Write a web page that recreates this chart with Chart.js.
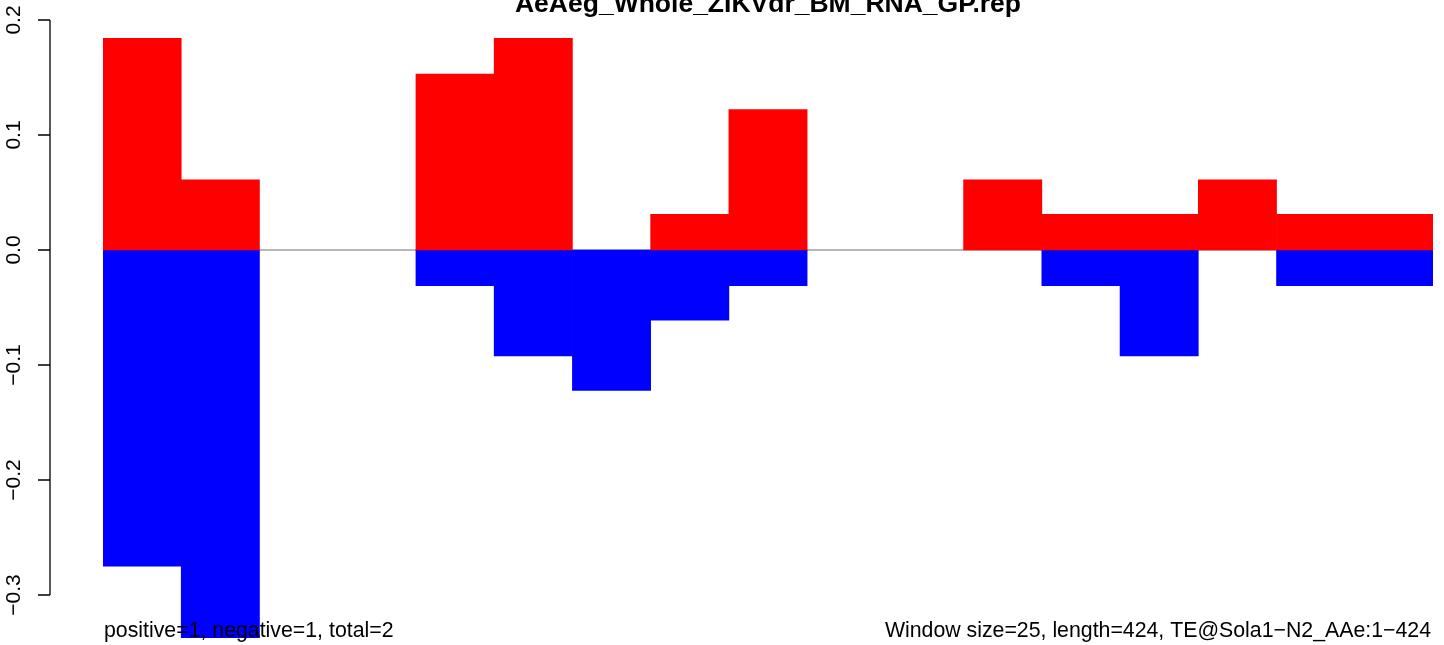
<!DOCTYPE html>
<html lang="en">
<head>
  <meta charset="UTF-8">
  <title>AeAeg_Whole_ZIKVdr_BM_RNA_GP.rep</title>
  <style>
    html, body {
      margin: 0;
      padding: 0;
      background: #fff;
    }

    #wrap {
      width: 1444px;
      height: 645px;
    }
  </style>
</head>
<body>
  <div id="wrap"><canvas id="chart" width="1444" height="645"></canvas></div>

  <script src="https://cdn.jsdelivr.net/npm/chart.js"></script>
  <script>
    // windows of 25 along the 424 bp element
    const windows = ['1', '26', '51', '76', '101', '126', '151', '176', '201',
      '226', '251', '276', '301', '326', '351', '376', '401'];
    const positive = [0.184, 0.061, 0, 0, 0.153, 0.184, 0, 0.031, 0.122,
      0, 0, 0.061, 0.031, 0.031, 0.061, 0.031, 0.031];
    const negative = [-0.275, -0.337, 0, 0, -0.031, -0.092, -0.122, -0.061, -0.031,
      0, 0, 0, -0.031, -0.092, 0, -0.031, -0.031];
    const tickValues = [-0.3, -0.2, -0.1, 0.0, 0.1, 0.2];
    const tickLabels = ['\u22120.3', '\u22120.2', '\u22120.1', '0.0', '0.1', '0.2'];

    const chartTitle = 'AeAeg_Whole_ZIKVdr_BM_RNA_GP.rep';
    const footLeft = 'positive=1, negative=1, total=2';
    const footRight = 'Window size=25, length=424, TE@Sola1\u2212N2_AAe:1\u2212424';

    const FONT = '"Liberation Sans", Arial, Helvetica, sans-serif';

    // empty windows get no bar at all (avoids a hairline on the zero line)
    const noZero = arr => arr.map(v => (v === 0 ? null : v));

    // zero line behind the bars
    const zeroLine = {
      id: 'zeroLine',
      beforeDatasetsDraw(chart) {
        const { ctx, chartArea, scales } = chart;
        const y = scales.y.getPixelForValue(0);
        ctx.save();
        ctx.strokeStyle = '#a0a0a0';
        ctx.lineWidth = 1.5;
        ctx.beginPath();
        ctx.moveTo(chartArea.left, y);
        ctx.lineTo(chartArea.right, y);
        ctx.stroke();
        ctx.restore();
      }
    };

    // R style axis on the left, title and footer texts
    const decorations = {
      id: 'decorations',
      afterDraw(chart) {
        const { ctx, scales, chartArea } = chart;
        const ys = scales.y;
        const axisX = 50;
        ctx.save();
        ctx.strokeStyle = '#000';
        ctx.lineWidth = 1.3;
        ctx.beginPath();
        ctx.moveTo(axisX, ys.getPixelForValue(tickValues[0]));
        ctx.lineTo(axisX, ys.getPixelForValue(tickValues[tickValues.length - 1]));
        tickValues.forEach(v => {
          const y = ys.getPixelForValue(v);
          ctx.moveTo(axisX, y);
          ctx.lineTo(axisX - 12, y);
        });
        ctx.stroke();

        ctx.fillStyle = '#000';
        ctx.font = '21px ' + FONT;
        ctx.textAlign = 'center';
        ctx.textBaseline = 'alphabetic';
        tickValues.forEach((v, i) => {
          const y = ys.getPixelForValue(v);
          ctx.save();
          ctx.translate(20, y);
          ctx.rotate(-Math.PI / 2);
          ctx.fillText(tickLabels[i], 0, 0);
          ctx.restore();
        });

        ctx.font = 'bold 26.5px ' + FONT;
        ctx.textAlign = 'center';
        ctx.fillText(chartTitle, (chartArea.left + chartArea.right) / 2, 12);

        ctx.font = '21.3px ' + FONT;
        ctx.textAlign = 'left';
        ctx.fillText(footLeft, 104, 637);
        ctx.textAlign = 'right';
        ctx.fillText(footRight, 1431, 637);
        ctx.restore();
      }
    };

    new Chart(document.getElementById('chart'), {
      type: 'bar',
      data: {
        labels: windows,
        datasets: [{
          label: 'positive',
          data: noZero(positive),
          backgroundColor: '#ff0000',
          barPercentage: 1,
          categoryPercentage: 1
        }, {
          label: 'negative',
          data: noZero(negative),
          backgroundColor: '#0000ff',
          barPercentage: 1,
          categoryPercentage: 1
        }]
      },
      options: {
        responsive: false,
        animation: false,
        layout: {
          padding: { left: 103, right: 11, top: 20, bottom: 4 }
        },
        plugins: {
          legend: { display: false },
          tooltip: { enabled: false },
          title: { display: false }
        },
        scales: {
          x: {
            stacked: true,
            display: false
          },
          y: {
            stacked: true,
            display: false,
            min: -0.34,
            max: 0.2
          }
        }
      },
      plugins: [zeroLine, decorations]
    });
  </script>
</body>
</html>
